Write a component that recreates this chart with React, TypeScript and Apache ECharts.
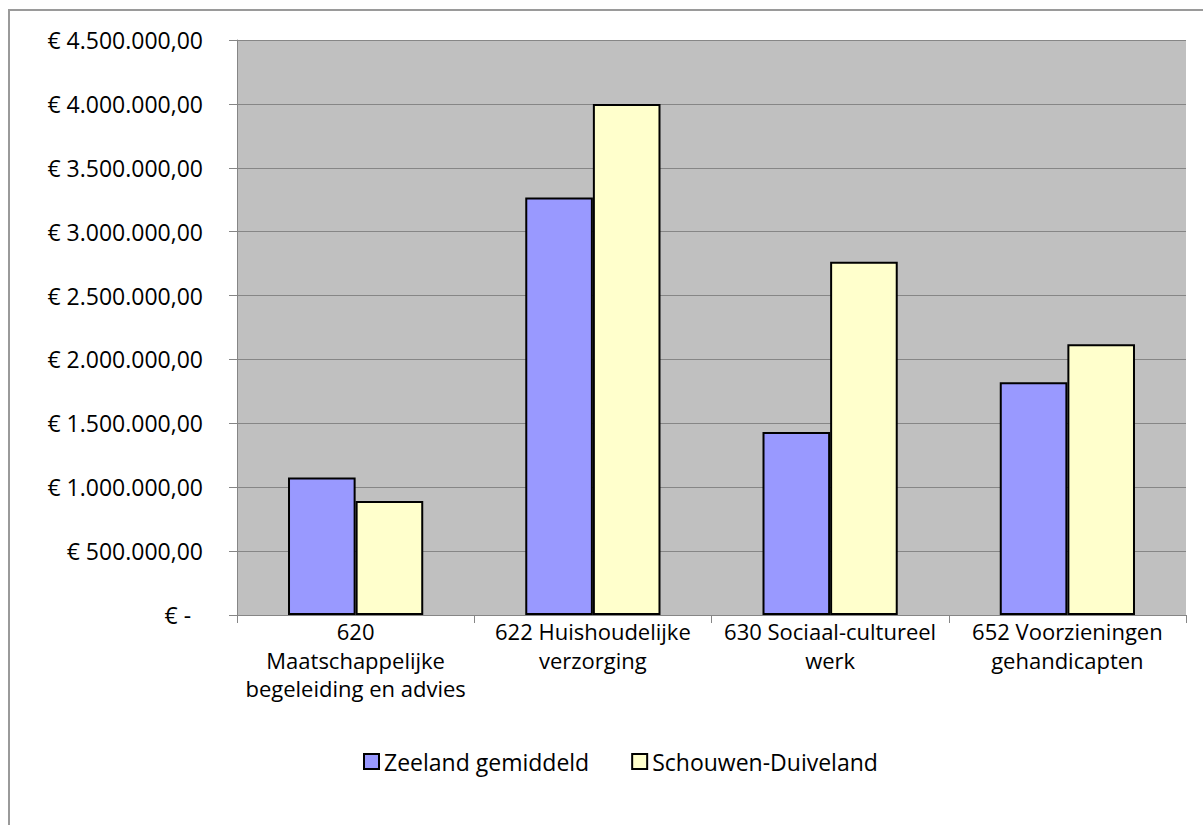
import React, { useEffect, useRef } from "react";
import * as echarts from "echarts";

const categories = [
  "620\nMaatschappelijke\nbegeleiding en advies",
  "622 Huishoudelijke\nverzorging",
  "630 Sociaal-cultureel\nwerk",
  "652 Voorzieningen\ngehandicapten",
];
const seriesNames = ["Zeeland gemiddeld", "Schouwen-Duiveland"];
const zeelandValues = [1077000, 3267000, 1433000, 1822000];
const schouwenValues = [892000, 3999000, 2765000, 2118000];
const yMin = 0;
const yMax = 4500000;
const yInterval = 500000;

const FONT = "'Open Sans', 'Noto Sans', sans-serif";

function formatEuro(v: number): string {
  if (v === 0) return "€ -  ";
  const s = String(Math.round(v)).replace(/\B(?=(\d{3})+(?!\d))/g, ".");
  return "€ " + s + ",00";
}

export default function App() {
  const ref = useRef<HTMLDivElement>(null);
  useEffect(() => {
    if (!ref.current) return;
    const chart = echarts.init(ref.current, undefined, { renderer: "svg" });
    chart.setOption({
      animation: false,
      backgroundColor: "#ffffff",
      textStyle: { fontFamily: FONT },
      graphic: [
        {
          type: "rect",
          shape: { x: 9, y: 10, width: 1210, height: 830 },
          style: { fill: "none", stroke: "#9a9a9a", lineWidth: 2 },
          silent: true,
          z: 0,
        },
      ],
      grid: {
        left: 237,
        top: 40,
        right: 17,
        bottom: 210,
        show: true,
        backgroundColor: "#C0C0C0",
        borderWidth: 0,
      },
      legend: {
        left: 358,
        top: 745,
        itemWidth: 15,
        itemHeight: 15,
        itemGap: 42,
        icon: "rect",
        textStyle: { fontFamily: FONT, fontSize: 23, color: "#000" },
        data: seriesNames,
      },
      xAxis: {
        type: "category",
        data: categories,
        axisLine: { show: true, lineStyle: { color: "#868686", width: 1 } },
        axisTick: { show: true, length: 8, lineStyle: { color: "#868686" } },
        axisLabel: {
          interval: 0,
          margin: 2,
          fontFamily: FONT,
          fontSize: 22,
          lineHeight: 28.5,
          color: "#000",
          align: "center",
        },
        splitLine: { show: false },
      },
      yAxis: {
        type: "value",
        min: yMin,
        max: yMax,
        interval: yInterval,
        axisLine: { show: true, lineStyle: { color: "#868686", width: 1 } },
        axisTick: { show: true, length: 8, lineStyle: { color: "#868686" } },
        axisLabel: {
          margin: 34,
          fontFamily: FONT,
          fontSize: 23,
          color: "#000",
          formatter: (v: number) => formatEuro(v),
        },
        splitLine: { show: true, lineStyle: { color: "#868686", width: 1 } },
      },
      series: [
        {
          name: seriesNames[0],
          type: "bar",
          data: zeelandValues,
          barGap: "0%",
          barCategoryGap: "43%",
          itemStyle: { color: "#9999FF", borderColor: "#000", borderWidth: 2 },
        },
        {
          name: seriesNames[1],
          type: "bar",
          data: schouwenValues,
          barGap: "0%",
          barCategoryGap: "43%",
          itemStyle: { color: "#FFFFCC", borderColor: "#000", borderWidth: 2 },
        },
      ],
    });
    return () => chart.dispose();
  }, []);
  return (
    <div
      ref={ref}
      style={{ position: "fixed", left: 0, top: 0, width: 1203, height: 825 }}
    />
  );
}
